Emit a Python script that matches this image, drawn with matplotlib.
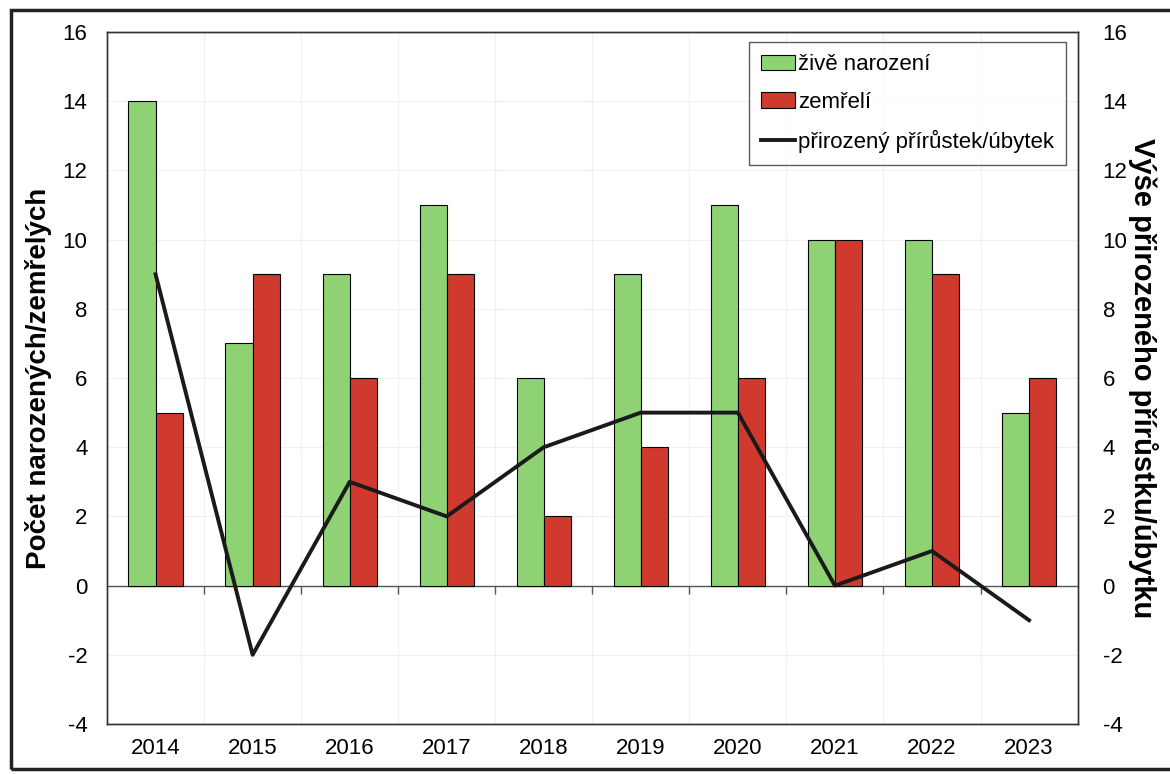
import matplotlib.pyplot as plt
import numpy as np
from matplotlib.patches import Rectangle

plt.rcParams['font.family'] = ['Liberation Sans', 'DejaVu Sans']
plt.rcParams['axes.unicode_minus'] = False

years = ['2014', '2015', '2016', '2017', '2018', '2019', '2020', '2021', '2022', '2023']
born = [14, 7, 9, 11, 6, 9, 11, 10, 10, 5]
died = [5, 9, 6, 9, 2, 4, 6, 10, 9, 6]
natural = [9, -2, 3, 2, 4, 5, 5, 0, 1, -1]

green = '#8ed273'
red = '#d0392e'

fig = plt.figure(figsize=(11.7, 7.74), dpi=100)
ax = fig.add_axes([0.0915, 0.0646, 0.8295, 0.894])
x = np.arange(len(years))
w = 0.28

# faint grid
for v in range(-4, 17, 2):
    ax.axhline(v, color='#f0f0f0', lw=0.8, zorder=0)
for b in x[:-1] + 0.5:
    ax.axvline(b, color='#f0f0f0', lw=0.8, zorder=0)

ax.bar(x - w / 2, born, w, color=green, edgecolor='black', lw=0.8, label='živě narození', zorder=2)
ax.bar(x + w / 2, died, w, color=red, edgecolor='black', lw=0.8, label='zemřelí', zorder=2)
ax.axhline(0, color='#555555', lw=1, zorder=1)
ax.vlines(x[:-1] + 0.5, -0.25, 0, color='#555555', lw=1, zorder=1)

ax.set_xlim(-0.5, len(years) - 0.5)
ax.set_ylim(-4, 16)
ax.set_yticks(range(-4, 17, 2))
ax.set_xticks(x)
ax.set_xticklabels(years)
ax.tick_params(axis='both', length=0, labelsize=16)
ax.tick_params(axis='x', pad=10)
ax.tick_params(axis='y', pad=14)
ax.set_ylabel('Počet narozených/zemřelých', fontsize=20, fontweight='bold', labelpad=8)

ax2 = ax.twinx()
ln, = ax2.plot(x, natural, color='#1a1a1a', lw=2.8, label='přirozený přírůstek/úbytek', zorder=3)
ax2.set_ylim(-4, 16)
ax2.set_yticks(range(-4, 17, 2))
ax2.tick_params(axis='y', length=0, labelsize=16, pad=18)
ax2.set_ylabel('Výše přirozeného přírůstku/úbytku', fontsize=21, fontweight='bold',
               rotation=-90, labelpad=22)

for a in (ax, ax2):
    for s in a.spines.values():
        s.set_color('#333333')
        s.set_linewidth(1)

h1, l1 = ax.get_legend_handles_labels()
leg = ax2.legend(h1 + [ln], l1 + [ln.get_label()], loc='upper right',
                 bbox_to_anchor=(0.9975, 0.9985), fontsize=16, frameon=True,
                 fancybox=False, edgecolor='#333333', handlelength=1.5,
                 handletextpad=0.15, labelspacing=0.75, borderpad=0.55,
                 borderaxespad=0.4)
leg.get_frame().set_linewidth(1)

fig.patches.append(Rectangle((0.009, 0.006), 1.2, 0.981, transform=fig.transFigure,
                             fill=False, edgecolor='#222222', lw=2.5))

fig.savefig('out.png', dpi=100)
